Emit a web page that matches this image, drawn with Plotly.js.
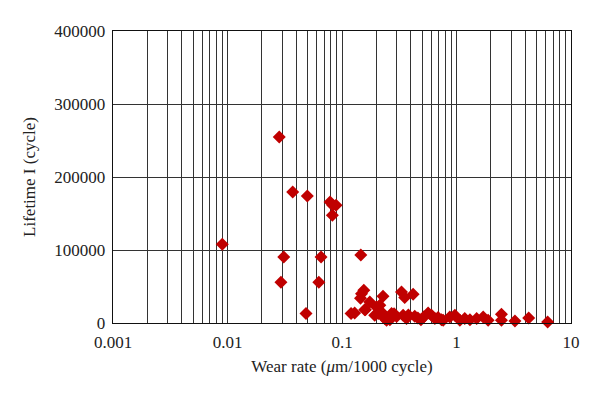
<!DOCTYPE html>
<html>
<head>
<meta charset="utf-8">
<script src="https://cdn.plot.ly/plotly-3.0.1.min.js"></script>
<style>html,body{margin:0;padding:0;background:#fff;}#chart{width:600px;height:396px;}</style>
</head>
<body>
<div id="chart"></div>
<script>
// Wear rate (um/1000 cycle)
const wearRate = [
  0.0090, 0.0283, 0.0371, 0.0498, 0.0787, 0.083, 0.0888, 0.0824, 0.031, 0.0656,
  0.0293, 0.0627, 0.0485,
  0.146, 0.155, 0.148, 0.145, 0.175, 0.129, 0.160, 0.228, 0.214, 0.331, 0.353, 0.418,
  0.120, 0.193, 0.221, 0.236, 0.262, 0.285, 0.342, 0.366, 0.432, 0.489, 0.565, 0.647, 0.74,
  0.200, 0.207, 0.245, 0.271, 0.158, 0.30, 0.38, 0.46, 0.52,
  0.606, 0.69, 0.765, 0.874, 0.968, 1.07, 1.18, 1.31, 1.5, 1.71, 1.89, 2.47, 2.47, 3.24, 4.27, 6.25
];
// Lifetime I (cycle)
const lifetime = [
  108000, 254800, 179500, 174000, 165800, 161200, 161200, 147500, 90400, 90400,
  55700, 55700, 12900,
  93200, 44800, 40000, 34000, 28800, 13700, 18300, 36600, 24200, 42500, 34800, 39300,
  13000, 10500, 15000, 6000, 4600, 12800, 10500, 6000, 9200, 4600, 13700, 6000, 4600,
  21900, 12900, 3700, 12900, 18300, 9000, 11000, 7000, 8500,
  10500, 7400, 3700, 8200, 10500, 3700, 6000, 4600, 6000, 8200, 3700, 11900, 3700, 2700, 6800, 1400
];
const xTickVals = [0.001, 0.01, 0.1, 1, 10];
const xTickText = ["0.001", "0.01", "0.1", "1", "10"];

const fontFam = '"Liberation Serif", "DejaVu Serif", serif';
const fsz = 17;
const trace = {
  x: wearRate, y: lifetime, type: 'scatter', mode: 'markers',
  marker: {symbol: 'diamond', size: 10, color: '#C00000', line: {width: 0}},
  hoverinfo: 'none', cliponaxis: false
};
const layout = {
  width: 600, height: 396,
  margin: {l: 113, r: 29, t: 31, b: 73},
  paper_bgcolor: '#fff', plot_bgcolor: '#fff',
  showlegend: false,
  font: {family: fontFam, size: fsz, color: '#222'},
  xaxis: {
    type: 'log', range: [-3, 1],
    tickvals: xTickVals, ticktext: xTickText,
    showgrid: true, gridcolor: '#333', gridwidth: 1,
    minor: {showgrid: true, gridcolor: '#333', gridwidth: 1, dtick: 'D1', ticks: ''},
    showline: true, linecolor: '#111', linewidth: 1.3, mirror: true,
    ticks: '', zeroline: false, ticklabelstandoff: 3,
    tickfont: {family: fontFam, size: fsz, color: '#222'},
    title: {text: 'Wear rate (<i>μ</i>m/1000 cycle)', font: {family: fontFam, size: fsz, color: '#222'}, standoff: 9}
  },
  yaxis: {
    range: [0, 400000], dtick: 100000, tickformat: 'd',
    showgrid: true, gridcolor: '#333', gridwidth: 1,
    showline: true, linecolor: '#111', linewidth: 1.3, mirror: true,
    ticks: '', zeroline: false, ticklabelstandoff: 3,
    tickfont: {family: fontFam, size: fsz, color: '#222'},
    title: {text: 'Lifetime I (cycle)', font: {family: fontFam, size: fsz, color: '#222'}, standoff: 14}
  }
};
Plotly.newPlot('chart', [trace], layout, {displayModeBar: false, staticPlot: true});
</script>
</body>
</html>
